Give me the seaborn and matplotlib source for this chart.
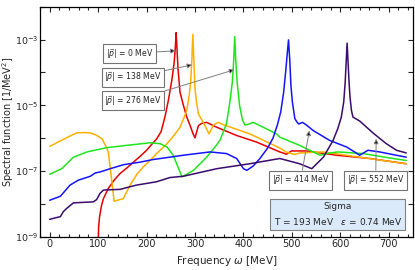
import numpy as np
import pandas as pd
import seaborn as sns
import matplotlib
matplotlib.use("Agg")
import matplotlib.pyplot as plt
from matplotlib.ticker import MultipleLocator, FixedLocator, NullFormatter

# spectral function of sigma (values are log10 A)
e_p0 = [100, 101, 103, 107, 111, 121, 133, 145, 160, 173, 187, 200, 210, 221, 230, 238, 245, 252,
        257, 259.5, 261, 262.5, 265, 269, 276, 283, 290, 296, 300, 307, 314, 324, 345, 386, 427,
        475, 489, 499, 530, 592, 661, 736]
lg_p0 = [-9.3, -8.7, -8.39, -8.05, -7.84, -7.53, -7.28, -7.08, -6.9, -6.73, -6.55, -6.37, -6.2,
         -6.02, -5.8, -5.35, -4.85, -4.25, -3.7, -3.2, -2.79, -3.2, -3.9, -4.6, -5.0, -5.36, -5.62,
         -5.87, -5.99, -5.62, -5.55, -5.52, -5.67, -5.92, -6.12, -6.42, -6.49, -6.39, -6.39, -6.52,
         -6.62, -6.78]

e_p138 = [0, 20, 40, 56, 70, 83, 95, 108, 116, 121, 128, 133, 152, 166, 180, 193, 207, 221, 242,
          255, 269, 278, 283, 288, 291, 293.5, 295.5, 297.5, 300, 303, 307, 317, 329, 338, 348,
          360, 413, 475, 489, 506, 516, 565, 640, 736]
lg_p138 = [-6.25, -6.1, -5.95, -5.84, -5.83, -5.84, -5.9, -6.02, -6.25, -6.42, -7.28, -7.92, -7.84,
           -7.43, -7.1, -6.88, -6.68, -6.47, -6.17, -5.95, -5.67, -5.35, -5.16, -4.7, -4.3, -3.6,
           -2.84, -3.6, -4.5, -4.9, -5.26, -5.52, -5.87, -5.6, -5.52, -5.6, -5.87, -6.3, -6.43,
           -6.5, -6.45, -6.42, -6.58, -6.78]

e_p276 = [0, 25, 49, 77, 118, 159, 190, 207, 228, 242, 255, 273, 297, 324, 345, 352, 365, 372,
          377, 380, 382, 384, 387, 392, 398, 403, 410, 420, 441, 468, 475, 516, 558, 575, 595,
          647, 700, 736]
lg_p276 = [-7.1, -6.93, -6.58, -6.42, -6.29, -6.22, -6.17, -6.14, -6.17, -6.27, -6.52, -7.18,
           -6.98, -6.58, -6.2, -6.05, -5.56, -4.9, -4.3, -3.6, -2.91, -3.6, -4.3, -5.0, -5.45,
           -5.6, -5.58, -5.52, -5.67, -5.87, -5.97, -6.22, -6.52, -6.46, -6.42, -6.47, -6.6, -6.68]

e_p414 = [0, 22, 42, 59, 84, 94, 104, 125, 152, 187, 214, 248, 276, 331, 365, 386, 400, 407, 420,
          434, 450, 461, 470, 477, 483, 487, 490, 493, 495.5, 498, 501, 506, 510, 514, 522, 530,
          544, 578, 613, 640, 657, 681, 736]
lg_p414 = [-7.89, -7.77, -7.43, -7.28, -7.16, -7.06, -7.03, -6.93, -6.81, -6.73, -6.65, -6.58,
           -6.52, -6.42, -6.47, -6.62, -6.93, -6.98, -6.85, -6.62, -6.3, -6.0, -5.6, -5.2, -4.6,
           -4.0, -3.5, -3.01, -3.6, -4.4, -4.9, -5.4, -5.5, -5.57, -5.52, -5.6, -5.77, -6.07,
           -6.27, -6.52, -6.37, -6.42, -6.58]

e_p552 = [0, 22, 28, 35, 49, 90, 97, 104, 111, 145, 179, 220, 248, 276, 345, 413, 475, 516, 541,
          565, 585, 595, 602, 607, 610, 612, 614, 616, 618, 620, 623, 626, 640, 668, 695, 716, 736]
lg_p552 = [-8.47, -8.39, -8.24, -8.14, -7.97, -7.94, -7.87, -7.68, -7.58, -7.56, -7.43, -7.33,
           -7.2, -7.16, -6.93, -6.78, -6.62, -6.78, -6.93, -6.58, -6.07, -5.7, -5.36, -4.9, -4.3,
           -3.7, -3.11, -3.7, -4.3, -4.76, -5.16, -5.36, -5.48, -5.85, -6.17, -6.37, -6.45]

momenta = ["0", "138", "276", "414", "552"]
colors = ["#e60000", "#ffb000", "#1ee61e", "#1414ff", "#3b0b6e"]

# label boxes: (text pos E, log10 A) and arrow target (E, log10 A)
box_pos = [(165, -3.43), (172, -4.15), (172, -4.86), (518, -7.28), (673, -7.28)]
arrow_to = [(260, -3.34), (294, -3.77), (381, -3.92), (536, -5.77), (674, -6.02)]

frames = []
for p, e, lg in zip(momenta, [e_p0, e_p138, e_p276, e_p414, e_p552],
                    [lg_p0, lg_p138, lg_p276, lg_p414, lg_p552]):
    frames.append(pd.DataFrame({"E": e, "A": np.power(10.0, lg), "p": p}))
df = pd.concat(frames, ignore_index=True)

sns.set_style("ticks")
plt.rcParams["font.family"] = ["DejaVu Sans"]

fig = plt.figure(figsize=(4.15, 2.70), dpi=100)
ax = fig.add_axes([40 / 415, 33.3 / 270, 373 / 415, 230 / 270])

sns.lineplot(data=df, x="E", y="A", hue="p", hue_order=momenta, palette=colors,
             estimator=None, legend=False, lw=1.1, ax=ax)

ax.set_yscale("log")
ax.set_xlim(-20, 750)
ax.set_ylim(1e-9, 1e-2)

ax.yaxis.set_major_locator(FixedLocator([1e-9, 1e-7, 1e-5, 1e-3]))
ax.yaxis.set_minor_locator(FixedLocator([1e-8, 1e-6, 1e-4, 1e-2]))
ax.yaxis.set_minor_formatter(NullFormatter())
ax.xaxis.set_major_locator(MultipleLocator(100))
ax.xaxis.set_minor_locator(MultipleLocator(20))
ax.tick_params(which="both", direction="in", top=True, right=True, labelsize=7, width=0.8, pad=2)
ax.tick_params(axis="y", which="both", length=3.5, pad=1.5, labelsize=6.8)
ax.tick_params(axis="x", which="major", length=3.5)
ax.tick_params(axis="x", which="minor", length=2)
for s in ax.spines.values():
    s.set_linewidth(0.9)
    s.set_color("black")

ax.set_xlabel(r"Frequency $\omega$ [MeV]", fontsize=7.5, labelpad=3)
ax.set_ylabel(r"Spectral function [1/MeV$^2$]", fontsize=7)
ax.yaxis.set_label_coords(-0.064, 0.5)

for p, (bx, by), (tx, ty) in zip(momenta, box_pos, arrow_to):
    ax.annotate(r"$|\vec{p}|$ = " + p + " MeV", xy=(tx, 10 ** ty), xytext=(bx, 10 ** by),
                fontsize=5.6, ha="center", va="center",
                bbox=dict(boxstyle="square,pad=0.35", fc="white", ec="0.45", lw=0.8),
                arrowprops=dict(arrowstyle="-|>", ec="0.5", fc="black", lw=0.7,
                                mutation_scale=7, shrinkA=0, shrinkB=0))

ax.text(595, 10 ** -8.32, "Sigma\nT = 193 MeV   $\\varepsilon$ = 0.74 MeV", fontsize=6.5,
        ha="center", va="center", linespacing=1.5,
        bbox=dict(boxstyle="square,pad=0.35", fc="#dbeafa", ec="0.5", lw=0.8))

fig.savefig("out.png", dpi=100)
